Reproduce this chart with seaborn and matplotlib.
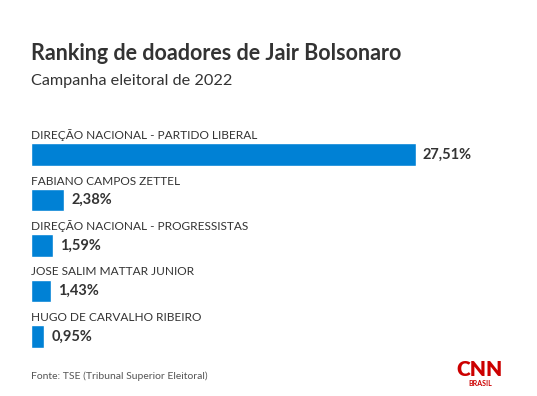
import matplotlib
matplotlib.use("Agg")
import matplotlib.pyplot as plt
import seaborn as sns
import pandas as pd

doadores = ["DIREÇÃO NACIONAL - PARTIDO LIBERAL", "FABIANO CAMPOS ZETTEL",
            "DIREÇÃO NACIONAL - PROGRESSISTAS", "JOSE SALIM MATTAR JUNIOR",
            "HUGO DE CARVALHO RIBEIRO"]
percentuais = [27.51, 2.38, 1.59, 1.43, 0.95]
rotulos = ["27,51%", "2,38%", "1,59%", "1,43%", "0,95%"]

df = pd.DataFrame({"doador": doadores, "pct": percentuais})

sns.set_style("white")
plt.rcParams["font.family"] = ["Lato", "DejaVu Sans"]

W, H = 537, 396
fig = plt.figure(figsize=(W / 100, H / 100), dpi=100)
fig.patch.set_facecolor("white")

# axes placed in pixel terms: bars from x=31 to 416, rows from y=132 to 359
ax = fig.add_axes([31 / W, 1 - 359 / H, 385 / W, (359 - 132) / H])
sns.barplot(data=df, x="pct", y="doador", orient="h", color="#0081d5",
            width=0.5, saturation=1, ax=ax)
ax.set_xlim(0, 27.51)
ax.set_ylim(4.5, -0.5)
ax.axis("off")

for i, (nome, v, r) in enumerate(zip(doadores, percentuais, rotulos)):
    ax.text(0, i - 0.34, nome, fontsize=8.6, color="#333333",
            ha="left", va="baseline", clip_on=False)
    ax.text(v + 0.5, i, r, fontsize=10.5, fontweight="bold", color="#333333",
            ha="left", va="center", clip_on=False)

fig.text(31 / W, 1 - 53 / H, "Ranking de doadores de Jair Bolsonaro",
         fontsize=15.5, fontweight="bold", color="#333333", ha="left", va="center")
fig.text(31 / W, 1 - 81 / H, "Campanha eleitoral de 2022",
         fontsize=11.7, color="#333333", ha="left", va="center")
fig.text(31 / W, 1 - 376 / H, "Fonte: TSE (Tribunal Superior Eleitoral)",
         fontsize=7.5, color="#555555", ha="left", va="center")

# logo
fig.text(480 / W, 1 - 369 / H, "CNN", fontsize=15, fontweight="heavy",
         color="#cc0000", ha="center", va="center")
fig.text(480 / W, 1 - 383 / H, "BRASIL", fontsize=5, fontweight="bold",
         color="#cc0000", ha="center", va="center")

fig.savefig("out.png", dpi=100, facecolor="white")
